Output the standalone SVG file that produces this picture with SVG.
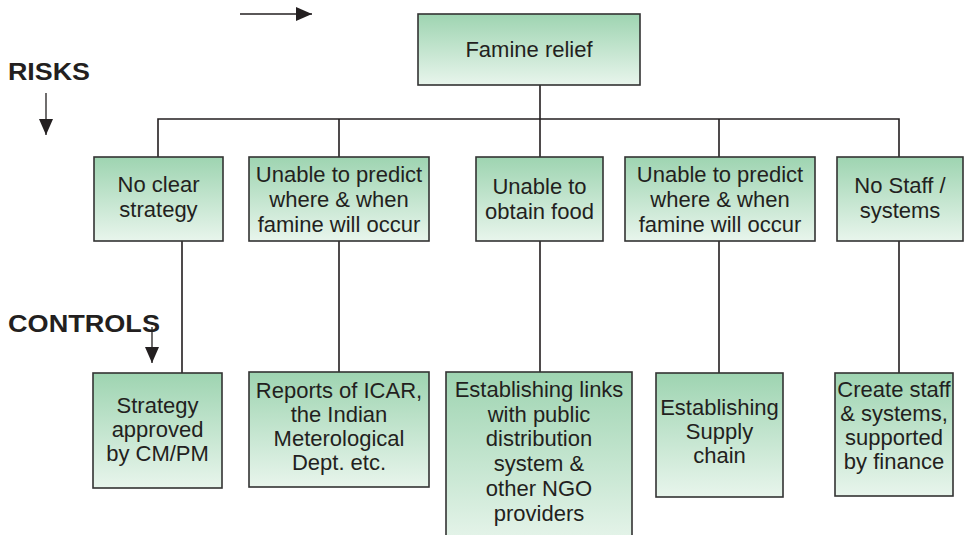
<svg xmlns="http://www.w3.org/2000/svg" width="965" height="535" viewBox="0 0 965 535">
<defs>
<linearGradient id="g" x1="0" y1="0" x2="0" y2="1">
<stop offset="0" stop-color="#9ed4b1"/>
<stop offset="1" stop-color="#e8f5ec"/>
</linearGradient>
<marker id="ah" viewBox="0 0 16 14" refX="16" refY="7" markerWidth="16" markerHeight="14" markerUnits="userSpaceOnUse" orient="auto">
<path d="M0,0 L16,7 L0,14 Z" fill="#231f20"/>
</marker>
<style>
.box{fill:url(#g);stroke:#333;stroke-width:1.6}
.t{font-family:"Liberation Sans",Arial,sans-serif;font-size:22px;fill:#231f20;text-anchor:middle}
.h{font-family:"Liberation Sans",Arial,sans-serif;font-size:24px;font-weight:bold;fill:#231f20}
.c{stroke:#231f20;stroke-width:1.6;fill:none}
.a{stroke:#231f20;stroke-width:1.3;fill:none;marker-end:url(#ah)}
</style>
</defs>
<rect width="965" height="535" fill="#fff"/>
<g id="labels">
<text class="h" x="8" y="80" textLength="82" lengthAdjust="spacingAndGlyphs">RISKS</text>
<text class="h" x="8" y="332" textLength="152" lengthAdjust="spacingAndGlyphs">CONTROLS</text>
<line class="a" x1="240" y1="14" x2="312" y2="14"/>
<line class="a" x1="46" y1="93" x2="46" y2="135"/>
<line class="a" x1="152" y1="327" x2="152" y2="363"/>
</g>
<g id="connectors">
<path class="c" d="M540,85 V119 M158,157 V119 H899 V157 M339,119 V157 M540,119 V157 M719,119 V157"/>
<path class="c" d="M182,241 V373 M339,241 V372 M540,241 V372 M719,241 V373 M899,241 V373"/>
</g>
<g id="famine-relief">
<rect class="box" x="418" y="14" width="222" height="71"/>
<text class="t" x="529" y="57">Famine relief</text>
</g>
<g id="risk1">
<rect class="box" x="94" y="157" width="129" height="84"/>
<text class="t" x="158.5" y="192">No clear</text>
<text class="t" x="158.5" y="217">strategy</text>
</g>
<g id="risk2">
<rect class="box" x="249" y="157" width="180" height="84"/>
<text class="t" x="339" y="182">Unable to predict</text>
<text class="t" x="339" y="207">where &amp; when</text>
<text class="t" x="339" y="232">famine will occur</text>
</g>
<g id="risk3">
<rect class="box" x="476" y="157" width="127" height="84"/>
<text class="t" x="539.5" y="194">Unable to</text>
<text class="t" x="539.5" y="219">obtain food</text>
</g>
<g id="risk4">
<rect class="box" x="625" y="157" width="190" height="84"/>
<text class="t" x="720" y="182">Unable to predict</text>
<text class="t" x="720" y="207">where &amp; when</text>
<text class="t" x="720" y="232">famine will occur</text>
</g>
<g id="risk5">
<rect class="box" x="837" y="157" width="126" height="84"/>
<text class="t" x="900" y="193">No Staff /</text>
<text class="t" x="900" y="218">systems</text>
</g>
<g id="control1">
<rect class="box" x="93" y="373" width="129" height="115"/>
<text class="t" x="157.5" y="413">Strategy</text>
<text class="t" x="157.5" y="437">approved</text>
<text class="t" x="157.5" y="461">by CM/PM</text>
</g>
<g id="control2">
<rect class="box" x="249" y="372" width="180" height="115"/>
<text class="t" x="339" y="398">Reports of ICAR,</text>
<text class="t" x="339" y="422">the Indian</text>
<text class="t" x="339" y="446">Meterological</text>
<text class="t" x="339" y="470">Dept. etc.</text>
</g>
<g id="control3">
<rect class="box" x="446" y="372" width="186" height="175"/>
<text class="t" x="539" y="397">Establishing links</text>
<text class="t" x="539" y="422">with public</text>
<text class="t" x="539" y="446">distribution</text>
<text class="t" x="539" y="471">system &amp;</text>
<text class="t" x="539" y="496">other NGO</text>
<text class="t" x="539" y="521">providers</text>
</g>
<g id="control4">
<rect class="box" x="656" y="373" width="127" height="124"/>
<text class="t" x="719.5" y="415">Establishing</text>
<text class="t" x="719.5" y="439">Supply</text>
<text class="t" x="719.5" y="463">chain</text>
</g>
<g id="control5">
<rect class="box" x="835" y="373" width="118" height="123"/>
<text class="t" x="894" y="397">Create staff</text>
<text class="t" x="894" y="421">&amp; systems,</text>
<text class="t" x="894" y="445">supported</text>
<text class="t" x="894" y="469">by finance</text>
</g>
</svg>
